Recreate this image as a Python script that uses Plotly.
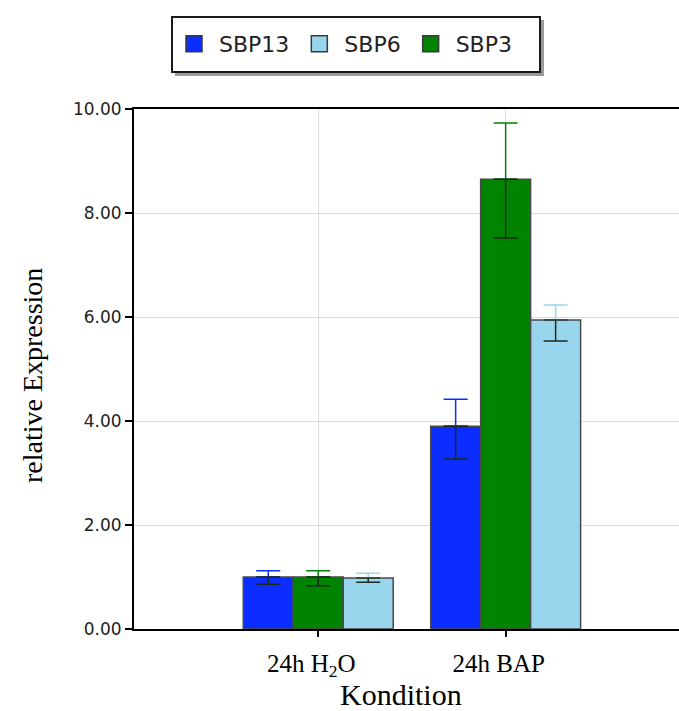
import plotly.graph_objects as go

categories = ["24h H<sub>2</sub>O", "24h BAP"]
series_names = ["SBP13", "SBP3", "SBP6"]
sbp13 = [1.00, 3.90]
sbp3 = [1.00, 8.65]
sbp6 = [0.98, 5.94]
sbp13_up = [0.12, 0.52]
sbp13_down = [0.14, 0.63]
sbp3_up = [0.12, 1.08]
sbp3_down = [0.17, 1.13]
sbp6_up = [0.09, 0.29]
sbp6_down = [0.08, 0.40]
legend_order = ["SBP13", "SBP6", "SBP3"]
y_ticks = [0, 2, 4, 6, 8, 10]

colors = {"SBP13": "#0b2dff", "SBP3": "#008300", "SBP6": "#98d6ee"}
values = {"SBP13": sbp13, "SBP3": sbp3, "SBP6": sbp6}
ups = {"SBP13": sbp13_up, "SBP3": sbp3_up, "SBP6": sbp6_up}
downs = {"SBP13": sbp13_down, "SBP3": sbp3_down, "SBP6": sbp6_down}

# plot-area geometry helpers (pixels -> paper)
L, T, W, H = 134, 109, 545, 520
def px(xp):
    return (xp - L) / W
def py(yp):
    return (T + H - yp) / H

x_idx = list(range(len(categories)))
fig = go.Figure()
for name in series_names:
    fig.add_trace(go.Bar(
        x=x_idx, y=values[name], name=name, offsetgroup=name, showlegend=False,
        marker=dict(color=colors[name], line=dict(color="#4a4a4a", width=1.5)),
        error_y=dict(type="data", symmetric=False, array=ups[name],
                     arrayminus=[0] * len(categories), color=colors[name],
                     thickness=1.5, width=12),
    ))
for name in series_names:
    fig.add_trace(go.Bar(
        x=x_idx, y=values[name], name=name, offsetgroup=name, showlegend=False,
        marker=dict(color="rgba(0,0,0,0)", line=dict(width=0)),
        hoverinfo="skip",
        error_y=dict(type="data", symmetric=False, array=[0] * len(categories),
                     arrayminus=downs[name], color="#1d2a1d", thickness=1.5, width=12),
    ))
for rank, name in enumerate(legend_order):
    fig.add_trace(go.Scatter(
        x=[None], y=[None], mode="markers", name=name, legendrank=rank + 1,
        marker=dict(symbol="square", size=16, color=colors[name],
                    line=dict(color="#3a3a3a", width=1.5)),
    ))

fig.update_layout(
    width=679, height=711,
    margin=dict(l=L, r=0, t=T, b=711 - T - H),
    paper_bgcolor="white", plot_bgcolor="white",
    barmode="group", bargap=0.2, bargroupgap=0,
    showlegend=True,
    legend=dict(orientation="h", x=px(343), xanchor="center", y=py(44), yanchor="middle",
                borderwidth=0, bgcolor="rgba(0,0,0,0)", itemwidth=40,
                font=dict(family="DejaVu Sans", size=22, color="#222"),
                itemsizing="trace"),
    xaxis=dict(range=[-0.983, 1.925], tickmode="array", tickvals=x_idx, ticktext=categories,
               showline=True, linecolor="black", linewidth=2, mirror=True,
               showgrid=True, gridcolor="#dcdcdc", gridwidth=1,
               ticks="outside", ticklen=6, tickcolor="black", tickwidth=2,
               ticklabelstandoff=5, ticklabelshift=-7,
               tickfont=dict(family="Liberation Serif", size=25, color="black"),
               zeroline=False),
    yaxis=dict(range=[0, 10], tickvals=y_ticks, tickformat=".2f",
               showline=True, linecolor="black", linewidth=2, mirror=False,
               showgrid=True, gridcolor="#dcdcdc", gridwidth=1,
               ticks="outside", ticklen=7, tickcolor="black", tickwidth=1.5,
               tickfont=dict(family="DejaVu Sans", size=17, color="#222"),
               zeroline=False),
    shapes=[
        dict(type="rect", xref="paper", yref="paper", x0=px(175), x1=px(544),
             y0=py(20), y1=py(76), fillcolor="#9a9a9a", line=dict(width=0), layer="above"),
        dict(type="rect", xref="paper", yref="paper", x0=px(172), x1=px(540),
             y0=py(17), y1=py(72), fillcolor="white", line=dict(color="#1a1a1a", width=2),
             layer="above"),
    ],
    annotations=[
        dict(text="relative Expression", xref="paper", yref="paper", x=px(32), y=py(376),
             textangle=-90, showarrow=False, xanchor="center", yanchor="middle",
             font=dict(family="Liberation Serif", size=28, color="black")),
        dict(text="Kondition", xref="paper", yref="paper", x=px(401), y=py(694),
             showarrow=False, xanchor="center", yanchor="middle",
             font=dict(family="Liberation Serif", size=30, color="black")),
    ],
)

fig.write_html("out.html")
